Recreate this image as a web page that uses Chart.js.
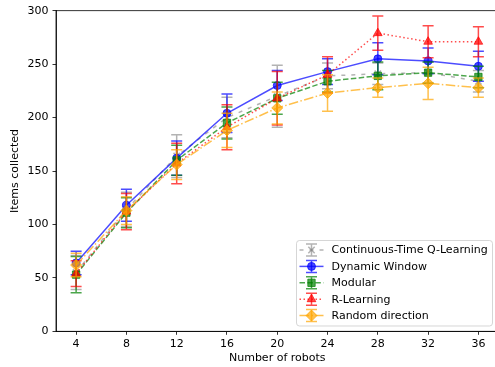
<!DOCTYPE html>
<html>
<head>
<meta charset="utf-8">
<script src="https://cdn.jsdelivr.net/npm/chart.js@4/dist/chart.umd.min.js"></script>
<style>
  html, body { margin: 0; padding: 0; overflow: hidden; background: #fff; }
  #wrap { width: 495px; height: 367px; overflow: hidden; }
</style>
</head>
<body>
<div id="wrap"><canvas id="chart" width="505" height="367"></canvas></div>
<script>
// DATA
const robots = [4, 8, 12, 16, 20, 24, 28, 32, 36];
const xTicks = [4, 8, 12, 16, 20, 24, 28, 32, 36];
const yTicks = [0, 50, 100, 150, 200, 250, 300];

const ctqlMean = [55, 114, 164, 200, 220, 239, 241, 242, 234];
const ctqlErr = [16, 16, 20, 19, 29, 12, 10, 10, 10];
const dwMean = [64, 118, 162, 204, 230, 243, 255, 253, 248];
const dwErr = [11, 15, 16, 18, 14, 12, 15, 12, 14];
const modMean = [53, 111, 160, 195, 218, 234, 239, 242, 238];
const modErr = [17, 14, 14, 15, 15, 10, 13, 10, 10];
const rlMean = [54, 112, 157, 191, 218, 240, 279, 271, 271];
const rlErr = [12, 17, 19, 21, 25, 17, 16, 15, 14];
const rdMean = [62, 113, 156, 188, 209, 223, 228, 232, 228];
const rdErr = [11, 13, 14, 16, 15, 17, 9, 15, 9];

const FONT = "'DejaVu Sans', sans-serif";

function series(label, mean, err, color, dash, marker, radius, order) {
    return {
        label: label,
        data: robots.map((x, i) => ({x: x, y: mean[i]})),
        errors: err,
        borderColor: color,
        backgroundColor: color,
        pointBackgroundColor: color,
        pointBorderColor: color,
        borderWidth: 1.5,
        borderDash: dash,
        pointStyle: marker,
        pointRadius: radius,
        pointBorderWidth: marker == "crossRot" ? 1.5 : 1,
        tension: 0,
        order: order
    }
}

const datasets = [
    series("Continuous-Time Q-Learning", ctqlMean, ctqlErr, "rgba(128,128,128,0.6)", [4, 6], "crossRot", 4.5, 4),
    series("Dynamic Window", dwMean, dwErr, "rgba(0,0,255,0.7)", [], "circle", 4, 3),
    series("Modular", modMean, modErr, "rgba(0,128,0,0.7)", [5.5, 2.4], "rect", 5.2, 2),
    series("R-Learning", rlMean, rlErr, "rgba(255,0,0,0.7)", [1.5, 2.5], "triangle", 5, 1),
    series("Random direction", rdMean, rdErr, "rgba(255,165,0,0.7)", [9.6, 2.4, 1.5, 2.4], "rectRot", 5.5, 0)
];

//ERROR BARS
const errorBars = {
    id: "errorBars",
    beforeDatasetDraw(chart, args) {
        const ds = chart.data.datasets[args.index];
        const xs = chart.scales.x, ys = chart.scales.y;
        const ctx = chart.ctx;
        ctx.save();
        ctx.strokeStyle = ds.borderColor;
        ctx.lineWidth = 1.5;
        ctx.setLineDash([]);
        ds.data.forEach((p, i) => {
            const px = xs.getPixelForValue(p.x);
            const top = ys.getPixelForValue(p.y + ds.errors[i]);
            const bot = ys.getPixelForValue(p.y - ds.errors[i]);
            ctx.beginPath();
            ctx.moveTo(px, top); ctx.lineTo(px, bot);
            ctx.moveTo(px - 5.5, top); ctx.lineTo(px + 5.5, top);
            ctx.moveTo(px - 5.5, bot); ctx.lineTo(px + 5.5, bot);
            ctx.stroke();
        });
        ctx.restore();
    }
};

//FRAME + LEGEND
const frameLegend = {
    id: "frameLegend",
    afterDraw(chart) {
        const ctx = chart.ctx;
        const a = chart.chartArea;
        ctx.save();
        ctx.strokeStyle = "#000";
        ctx.lineWidth = 0.8;
        ctx.strokeRect(a.left, a.top, a.right - a.left, a.bottom - a.top);

        // legend box
        const bx = 296.5, by = 240.5, bw = 196, bh = 85.5;
        ctx.beginPath();
        ctx.roundRect(bx, by, bw, bh, 3);
        ctx.fillStyle = "rgba(255,255,255,0.8)";
        ctx.fill();
        ctx.strokeStyle = "rgba(204,204,204,0.8)";
        ctx.lineWidth = 1;
        ctx.stroke();

        ctx.font = "11px " + FONT;
        ctx.textBaseline = "middle";
        chart.data.datasets.forEach((ds, i) => {
            const y = 250 + i * 16.4;
            ctx.strokeStyle = ds.borderColor;
            ctx.lineWidth = 1.5;
            ctx.setLineDash(ds.borderDash);
            ctx.beginPath();
            ctx.moveTo(299.5, y); ctx.lineTo(323.5, y);
            ctx.stroke();
            ctx.setLineDash([]);
            ctx.beginPath();
            ctx.moveTo(311.5, y - 6); ctx.lineTo(311.5, y + 6);
            ctx.moveTo(306, y - 6); ctx.lineTo(317, y - 6);
            ctx.moveTo(306, y + 6); ctx.lineTo(317, y + 6);
            ctx.stroke();
            ctx.fillStyle = ds.backgroundColor;
            ctx.lineWidth = ds.pointBorderWidth;
            Chart.helpers.drawPoint(ctx, {pointStyle: ds.pointStyle, radius: ds.pointRadius, borderWidth: ds.pointBorderWidth}, 311.5, y);
            ctx.fillStyle = "#000";
            ctx.fillText(ds.label, 331.5, y + 0.5);
        });
        ctx.restore();
    }
};

//CHART
new Chart(document.getElementById("chart"), {
    type: "line",
    data: { datasets: datasets },
    plugins: [errorBars, frameLegend],
    options: {
        responsive: false,
        animation: false,
        events: [],
        layout: { padding: { top: 10.7, right: 1.3, left: 0, bottom: 0 } },
        plugins: { legend: { display: false }, tooltip: { enabled: false } },
        scales: {
            x: {
                type: "linear",
                min: 2.4,
                max: 37.6,
                afterFit(s) { s.height = 35.7 },
                afterBuildTicks(s) { s.ticks = xTicks.map(v => ({value: v})) },
                grid: { display: true, drawOnChartArea: false, drawTicks: true, tickLength: 3.5, color: "#000", lineWidth: 0.8 },
                border: { display: true, color: "#000", width: 0.8 },
                ticks: { color: "#000", font: { family: FONT, size: 11 }, padding: 3, maxRotation: 0 },
                title: { display: true, text: "Number of robots", color: "#000", font: { family: FONT, size: 11 }, padding: { top: 0, bottom: 2 } }
            },
            y: {
                min: 0,
                max: 300,
                afterFit(s) { s.width = 56 },
                afterBuildTicks(s) { s.ticks = yTicks.map(v => ({value: v})) },
                grid: { display: true, drawOnChartArea: false, drawTicks: true, tickLength: 3.5, color: "#000", lineWidth: 0.8 },
                border: { display: true, color: "#000", width: 0.8 },
                ticks: { color: "#000", font: { family: FONT, size: 11 }, padding: 4 },
                title: { display: true, text: "Items collected", color: "#000", font: { family: FONT, size: 11 }, padding: { top: 8.5, bottom: 0 } }
            }
        }
    }
});
</script>
</body>
</html>
